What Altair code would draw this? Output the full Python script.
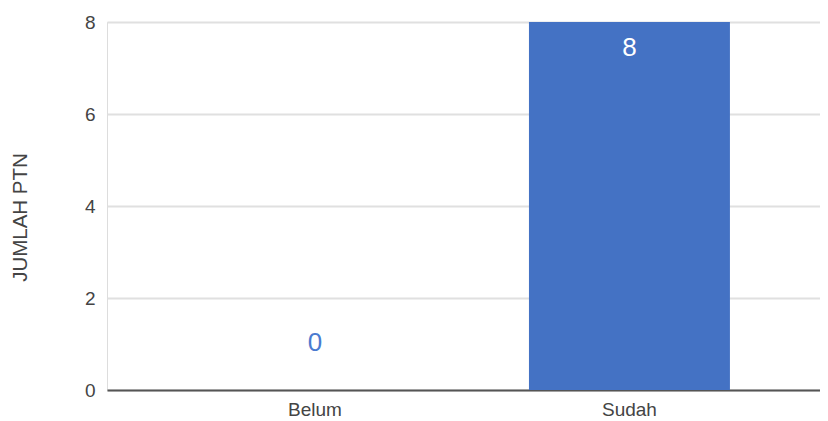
import altair as alt
import pandas as pd

categories = ["Belum", "Sudah"]
values = [0, 8]
y_ticks = [0, 2, 4, 6, 8]

df = pd.DataFrame({"status": categories, "jumlah": values})

FONT = "Liberation Sans"
BAR = "#4472C4"

x_enc = alt.X(
    "status:N",
    sort=categories,
    title=None,
    scale=alt.Scale(paddingInner=0.361, paddingOuter=0.314, align=0.544),
    axis=alt.Axis(
        labelAngle=0, ticks=False, domainColor="#555555", domainWidth=2,
        labelColor="#444444", labelFontSize=19, labelFont=FONT, labelPadding=10,
        grid=False,
    ),
)
y_enc = alt.Y(
    "jumlah:Q",
    title="JUMLAH PTN",
    scale=alt.Scale(domain=[0, 8], nice=False),
    axis=alt.Axis(
        values=y_ticks, ticks=False, domain=False, gridColor="#e0e0e0", gridWidth=2,
        labelColor="#444444", labelFontSize=19, labelFont=FONT, labelPadding=12,
        titleFont=FONT, titleFontSize=20.5, titleFontWeight="normal", titleColor="#444444",
        titleX=-87, titleY=195, titleAngle=-90, titleBaseline="middle", titleAlign="center",
    ),
)

base = alt.Chart(df)
bars = base.mark_bar(color=BAR).encode(x=x_enc, y=y_enc)
inside = base.transform_filter("datum.jumlah > 0").mark_text(
    color="white", fontSize=26, font=FONT, baseline="middle", dy=26
).encode(x=alt.X("status:N", sort=categories), y="jumlah:Q", text="jumlah:Q")
outside = base.transform_filter("datum.jumlah <= 0").mark_text(
    color="#4a7bd0", fontSize=26, font=FONT, baseline="middle", dy=-47
).encode(x=alt.X("status:N", sort=categories), y="jumlah:Q", text="jumlah:Q")

chart = (bars + inside + outside).properties(
    width=713, height=368,
    padding={"left": 99, "top": 14, "right": 0, "bottom": 30},
    autosize="none",
).configure_view(stroke=None).configure(background="white")

chart.save("out.html", embed_options={"renderer": "svg", "actions": False})
